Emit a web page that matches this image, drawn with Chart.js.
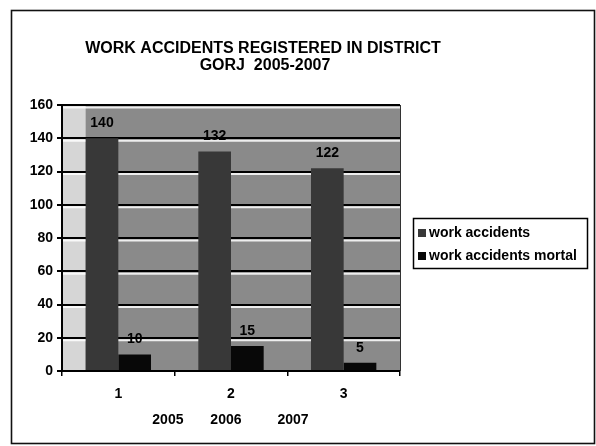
<!DOCTYPE html>
<html>
<head>
<meta charset="utf-8">
<script src="https://cdn.jsdelivr.net/npm/chart.js@4"></script>
<style>
  html, body { margin: 0; padding: 0; background: #ffffff; }
  #wrap { position: relative; width: 596px; height: 446px; }
</style>
</head>
<body>
<div id="wrap"><canvas id="c" width="596" height="446"></canvas></div>
<script>
// ---- data ----
const titleLines = ['WORK ACCIDENTS REGISTERED IN DISTRICT', 'GORJ  2005-2007'];
const categories = ['1', '2', '3'];
const seriesNames = ['work accidents', 'work accidents mortal'];
const workAccidents = [140, 132, 122];
const mortalAccidents = [10, 15, 5];
const yearLabels = ['2005', '2006', '2007'];
const yMin = 0, yMax = 160, yStep = 20;

// ---- styles ----
const FONT = "'Liberation Sans', Arial, sans-serif";
const colWork = '#383838';
const colMortal = '#080808';
const plotBg = '#8a8a8a';
const stripBg = '#d6d6d6';

const decoPlugin = {
  id: 'deco',
  beforeDraw(chart) {
    const ctx = chart.ctx, a = chart.chartArea;
    ctx.save();
    ctx.fillStyle = '#ffffff';
    ctx.fillRect(0, 0, chart.width, chart.height);
    // outer frame
    ctx.strokeStyle = '#111';
    ctx.lineWidth = 1.6;
    ctx.strokeRect(11.5, 10.5, 583, 433);
    // plot area
    ctx.fillStyle = plotBg;
    ctx.fillRect(a.left, a.top, a.right - a.left, a.bottom - a.top);
    // light strip left of first bar
    const el = chart.getDatasetMeta(0).data[0];
    if (el) {
      const l = el.x - el.width / 2;
      ctx.fillStyle = stripBg;
      ctx.fillRect(a.left, a.top, l - a.left, a.bottom - a.top);
    }
    ctx.restore();
  },
  beforeDatasetsDraw(chart) {
    const ctx = chart.ctx, a = chart.chartArea, y = chart.scales.y;
    ctx.save();
    ctx.strokeStyle = 'rgba(255,255,255,0.85)';
    ctx.lineWidth = 2;
    y.ticks.forEach(t => {
      const py = y.getPixelForValue(t.value);
      if (t.value === yMin) return;
      ctx.beginPath();
      ctx.moveTo(a.left + 1, py + 2.5);
      ctx.lineTo(a.right, py + 2.5);
      ctx.stroke();
    });
    ctx.strokeStyle = '#333';
    ctx.lineWidth = 1;
    ctx.beginPath();
    ctx.moveTo(a.right + 0.5, a.top);
    ctx.lineTo(a.right + 0.5, a.bottom);
    ctx.stroke();
    ctx.restore();
  },
  afterDraw(chart) {
    const ctx = chart.ctx;
    ctx.save();
    ctx.fillStyle = '#000';
    // title
    ctx.font = 'bold 16px ' + FONT;
    ctx.textAlign = 'center';
    ctx.textBaseline = 'middle';
    ctx.fillText(titleLines[0], 263, 49);
    ctx.fillText(titleLines[1], 265, 66);
    // data labels
    ctx.font = 'bold 14px ' + FONT;
    chart.data.datasets.forEach((ds, i) => {
      chart.getDatasetMeta(i).data.forEach((el, j) => {
        ctx.fillText(String(ds.data[j]), el.x, el.y - 15);
      });
    });
    // year labels under the axis
    const x = chart.scales.x;
    const yearPos = [0.44, 0.955, 1.55];
    ctx.font = 'bold 14px ' + FONT;
    yearLabels.forEach((t, i) => {
      ctx.fillText(t, x.getPixelForValue(yearPos[i]), 420);
    });
    // legend
    const lx = 413, ly = 218, lw = 174, lh = 50;
    ctx.strokeStyle = '#000';
    ctx.lineWidth = 1.5;
    ctx.strokeRect(lx + 0.5, ly + 0.5, lw, lh);
    ctx.textAlign = 'left';
    ctx.font = 'bold 14px ' + FONT;
    chart.data.datasets.forEach((ds, i) => {
      const cy = ly + 15 + i * 23;
      ctx.fillStyle = ds.backgroundColor;
      ctx.fillRect(lx + 5, cy - 4, 8, 8);
      ctx.fillStyle = '#000';
      ctx.fillText(ds.label, lx + 16, cy);
    });
    ctx.restore();
  }
};

new Chart(document.getElementById('c'), {
  type: 'bar',
  data: {
    labels: categories,
    datasets: [
      { label: seriesNames[0], data: workAccidents, backgroundColor: colWork, borderWidth: 0 },
      { label: seriesNames[1], data: mortalAccidents, backgroundColor: colMortal, borderWidth: 0 }
    ]
  },
  options: {
    responsive: false,
    animation: false,
    devicePixelRatio: 1,
    layout: { padding: { top: 105, right: 196, left: 0, bottom: 0 } },
    datasets: { bar: { categoryPercentage: 0.58, barPercentage: 1.0 } },
    plugins: {
      legend: { display: false },
      title: { display: false },
      tooltip: { enabled: false }
    },
    scales: {
      x: {
        offset: true,
        grid: { display: true, drawOnChartArea: false, offset: true, tickLength: 5, color: '#000', lineWidth: 1.5 },
        border: { display: true, color: '#000', width: 2 },
        ticks: { color: '#000', padding: 10, font: { family: FONT, size: 14, weight: 'bold' } },
        afterFit(s) { s.height = 75; }
      },
      y: {
        min: yMin, max: yMax,
        grid: { color: '#000', lineWidth: 2, tickLength: 5, drawTicks: true },
        border: { display: true, color: '#000', width: 2 },
        ticks: { stepSize: yStep, color: '#000', padding: 4, font: { family: FONT, size: 14, weight: 'bold' } },
        afterFit(s) { s.width = 62; }
      }
    }
  },
  plugins: [decoPlugin]
});
</script>
</body>
</html>
